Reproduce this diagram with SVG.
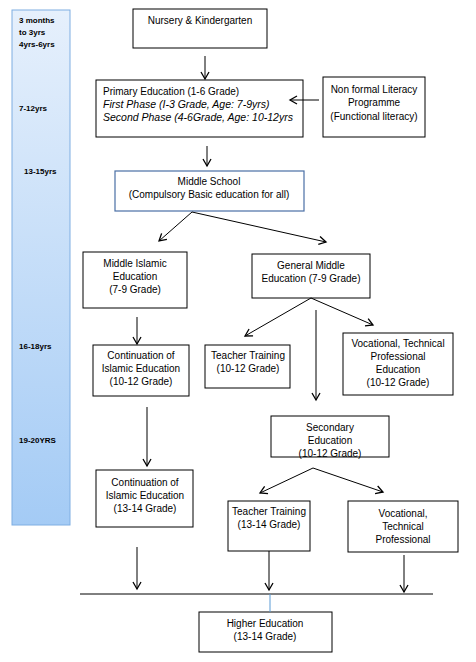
<svg xmlns="http://www.w3.org/2000/svg" width="476" height="662" viewBox="0 0 476 662">
<defs>
<linearGradient id="barGrad" x1="0" y1="0" x2="0" y2="1">
<stop offset="0" stop-color="#e6f0fc"/>
<stop offset="1" stop-color="#a4cbf5"/>
</linearGradient>
<marker id="arr" markerWidth="10" markerHeight="10" refX="8" refY="5" orient="auto" markerUnits="userSpaceOnUse">
<path d="M1,1 L8,5 L1,9" fill="none" stroke="#000" stroke-width="1.3"/>
</marker>
</defs>
<style>
text{font-family:"Liberation Sans",Arial,sans-serif;font-size:10px;fill:#000}
.c{text-anchor:middle}
.i{font-style:italic;font-size:10.5px}
.age{font-size:8px;font-weight:bold}
.box{fill:#fff;stroke:#000;stroke-width:1}
.blue{fill:#fff;stroke:#4a6fa5;stroke-width:1.2}
.ln{fill:none;stroke:#000;stroke-width:1}
</style>
<rect x="0" y="0" width="476" height="662" fill="#fff"/>
<g id="agebar">
<rect x="12" y="10" width="58" height="515" fill="url(#barGrad)" stroke="#7eaee2" stroke-width="1"/>
<text class="age" x="19" y="23">3 months</text>
<text class="age" x="19" y="35">to 3yrs</text>
<text class="age" x="19" y="47">4yrs-6yrs</text>
<text class="age" x="19" y="111">7-12yrs</text>
<text class="age" x="24" y="174">13-15yrs</text>
<text class="age" x="19" y="349">16-18yrs</text>
<text class="age" x="19" y="443">19-20YRS</text>
</g>
<g id="nursery">
<rect class="box" x="133" y="9" width="134" height="39"/>
<text class="c" x="200" y="24">Nursery &amp; Kindergarten</text>
</g>
<g id="primary">
<rect class="box" x="96" y="80" width="207" height="57"/>
<text x="103" y="95">Primary Education (1-6 Grade)</text>
<text class="i" x="103" y="108">First Phase (I-3 Grade, Age: 7-9yrs)</text>
<text class="i" x="103" y="121">Second Phase (4-6Grade, Age: 10-12yrs</text>
</g>
<g id="nonformal">
<rect class="box" x="323" y="77" width="102" height="60"/>
<text class="c" x="374" y="93">Non formal Literacy</text>
<text class="c" x="374" y="106">Programme</text>
<text class="c" x="374" y="120">(Functional literacy)</text>
</g>
<g id="middleschool">
<rect class="blue" x="115" y="171" width="189" height="40"/>
<text class="c" x="209" y="185">Middle School</text>
<text class="c" x="209" y="198">(Compulsory Basic education for all)</text>
</g>
<g id="middleislamic">
<rect class="box" x="83" y="252" width="104" height="56"/>
<text class="c" x="135" y="267">Middle Islamic</text>
<text class="c" x="135" y="280">Education</text>
<text class="c" x="135" y="293">(7-9 Grade)</text>
</g>
<g id="generalmiddle">
<rect class="box" x="252" y="254" width="118" height="44"/>
<text class="c" x="311" y="269">General Middle</text>
<text class="c" x="311" y="282">Education (7-9 Grade)</text>
</g>
<g id="contislamic1">
<rect class="box" x="93" y="345" width="96" height="51"/>
<text class="c" x="141" y="359">Continuation of</text>
<text class="c" x="141" y="372">Islamic Education</text>
<text class="c" x="141" y="385">(10-12 Grade)</text>
</g>
<g id="teacher1">
<rect class="box" x="205" y="345" width="85" height="43"/>
<text class="c" x="248" y="359">Teacher Training</text>
<text class="c" x="248" y="372">(10-12 Grade)</text>
</g>
<g id="vocational1">
<rect class="box" x="343" y="333" width="110" height="62"/>
<text class="c" x="398" y="347">Vocational, Technical</text>
<text class="c" x="398" y="360">Professional</text>
<text class="c" x="398" y="373">Education</text>
<text class="c" x="398" y="386">(10-12 Grade)</text>
</g>
<g id="secondary">
<rect class="box" x="271" y="416" width="118" height="41"/>
<text class="c" x="330" y="431">Secondary</text>
<text class="c" x="330" y="444">Education</text>
<text class="c" x="330" y="457">(10-12 Grade)</text>
</g>
<g id="contislamic2">
<rect class="box" x="96" y="470" width="97" height="57"/>
<text class="c" x="145" y="486">Continuation of</text>
<text class="c" x="145" y="499">Islamic Education</text>
<text class="c" x="145" y="512">(13-14 Grade)</text>
</g>
<g id="teacher2">
<rect class="box" x="228" y="501" width="82" height="50"/>
<text class="c" x="269" y="515">Teacher Training</text>
<text class="c" x="269" y="528">(13-14 Grade)</text>
</g>
<g id="vocational2">
<rect class="box" x="348" y="501" width="110" height="51"/>
<text class="c" x="403" y="517">Vocational,</text>
<text class="c" x="403" y="530">Technical</text>
<text class="c" x="403" y="543">Professional</text>
</g>
<g id="higher">
<rect class="box" x="199" y="612" width="133" height="40"/>
<text class="c" x="265" y="627">Higher Education</text>
<text class="c" x="265" y="640">(13-14 Grade)</text>
</g>
<g id="connectors">
<line class="ln" x1="205" y1="56" x2="205" y2="79" marker-end="url(#arr)"/>
<line class="ln" x1="319" y1="100" x2="290" y2="100" marker-end="url(#arr)"/>
<line class="ln" x1="207" y1="146" x2="207" y2="166" marker-end="url(#arr)"/>
<line class="ln" x1="192" y1="212" x2="159" y2="241" marker-end="url(#arr)"/>
<line class="ln" x1="192" y1="212" x2="326" y2="242" marker-end="url(#arr)"/>
<line class="ln" x1="311" y1="298" x2="245" y2="336" marker-end="url(#arr)"/>
<line class="ln" x1="311" y1="298" x2="373" y2="325" marker-end="url(#arr)"/>
<line class="ln" x1="316" y1="310" x2="316" y2="400" marker-end="url(#arr)"/>
<line class="ln" x1="137" y1="317" x2="137" y2="344" marker-end="url(#arr)"/>
<line class="ln" x1="147" y1="407" x2="147" y2="466" marker-end="url(#arr)"/>
<line class="ln" x1="313" y1="468" x2="260" y2="493" marker-end="url(#arr)"/>
<line class="ln" x1="313" y1="468" x2="383" y2="492" marker-end="url(#arr)"/>
<line class="ln" x1="137" y1="547" x2="137" y2="589" marker-end="url(#arr)"/>
<line class="ln" x1="269" y1="551" x2="269" y2="590" marker-end="url(#arr)"/>
<line class="ln" x1="404" y1="555" x2="404" y2="592" marker-end="url(#arr)"/>
<line class="ln" x1="80" y1="594" x2="433" y2="594"/>
<line x1="270" y1="594" x2="270" y2="612" stroke="#5b9bd5" stroke-width="1"/>
</g>
</svg>
